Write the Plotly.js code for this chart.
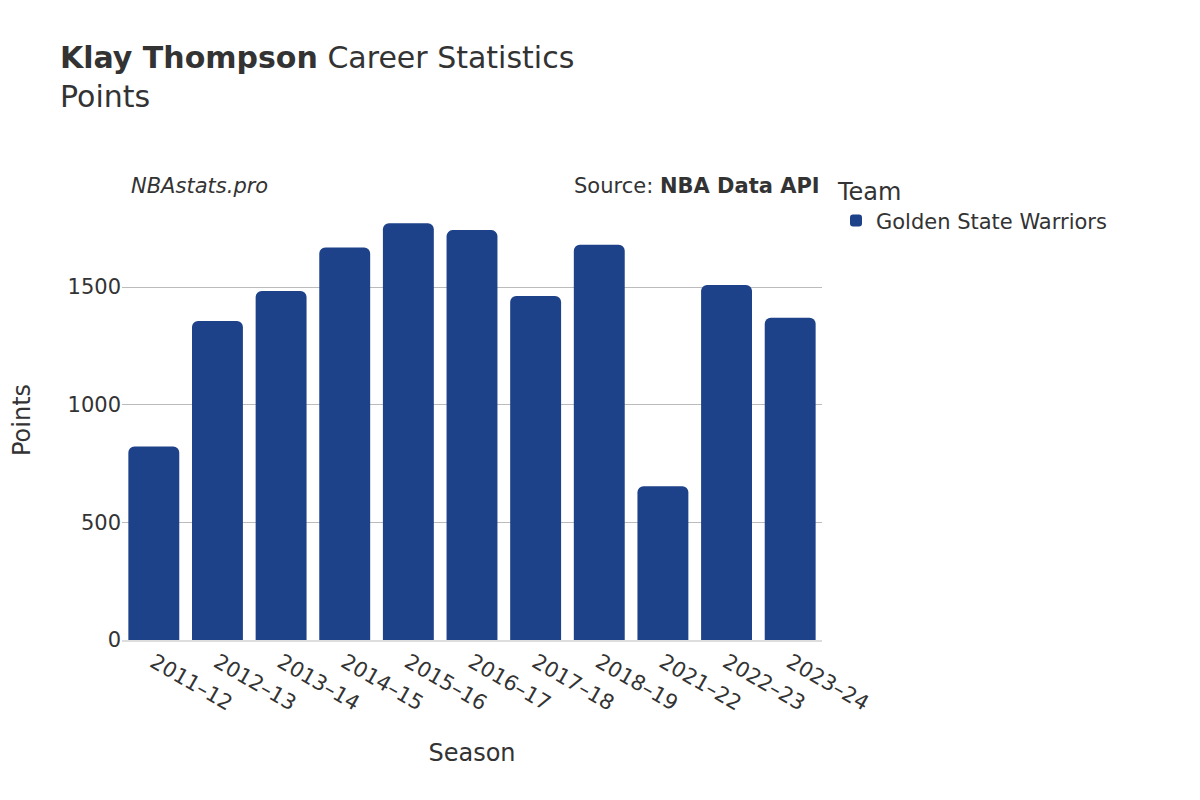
<!DOCTYPE html>
<html>
<head>
<script src="https://cdn.plot.ly/plotly-3.0.1.min.js"></script>
<style>body{margin:0}#plot{width:1200px;height:800px}</style>
</head>
<body>
<div id="plot"></div>
<script>
var seasons = ['2011–12', '2012–13', '2013–14', '2014–15', '2015–16', '2016–17', '2017–18', '2018–19', '2021–22', '2022–23', '2023–24'];
var points = [822, 1356, 1483, 1668, 1771, 1742, 1462, 1680, 653, 1509, 1370];

var data = [{
    type: 'bar',
    name: 'Golden State Warriors',
    x: seasons,
    y: points,
    marker: {color: '#1d428a'}
}];

var layout = {
    width: 1200,
    height: 800,
    font: {family: 'DejaVu Sans, sans-serif', color: '#333', size: 20},
    paper_bgcolor: 'white',
    plot_bgcolor: 'white',
    barcornerradius: 6,
    bargap: 0.2,
    margin: {l: 122, r: 378, t: 200, b: 160},
    title: {
        text: '<b>Klay Thompson</b> Career Statistics<br>Points',
        x: 0.05, xanchor: 'left', y: 0.915, yanchor: 'top',
        font: {size: 30, color: '#333'}
    },
    xaxis: {
        title: {text: 'Season', font: {size: 24}, standoff: 30},
        tickangle: 30,
        tickfont: {size: 21},
        showline: true, linecolor: '#ddd', linewidth: 2
    },
    yaxis: {
        title: {text: 'Points', font: {size: 24}, standoff: 30},
        tickfont: {size: 21},
        gridcolor: '#bbb', gridwidth: 1,
        zeroline: false,
        range: [0, 1870],
        tickvals: [0, 500, 1000, 1500]
    },
    showlegend: true,
    legend: {
        x: 1.02, y: 1.07, xanchor: 'left', yanchor: 'top',
        title: {text: 'Team', font: {size: 24}},
        font: {size: 21},
        itemsizing: 'constant'
    },
    annotations: [
        {text: '<i>NBAstats.pro</i>', xref: 'paper', yref: 'paper', x: 0.01, y: 1.0,
         xanchor: 'left', yanchor: 'bottom', showarrow: false, font: {size: 21}},
        {text: 'Source: <b>NBA Data API</b>', xref: 'paper', yref: 'paper', x: 1, y: 1.0,
         xanchor: 'right', yanchor: 'bottom', showarrow: false, font: {size: 21}}
    ]
};

Plotly.newPlot('plot', data, layout, {displayModeBar: false});
</script>
</body>
</html>
